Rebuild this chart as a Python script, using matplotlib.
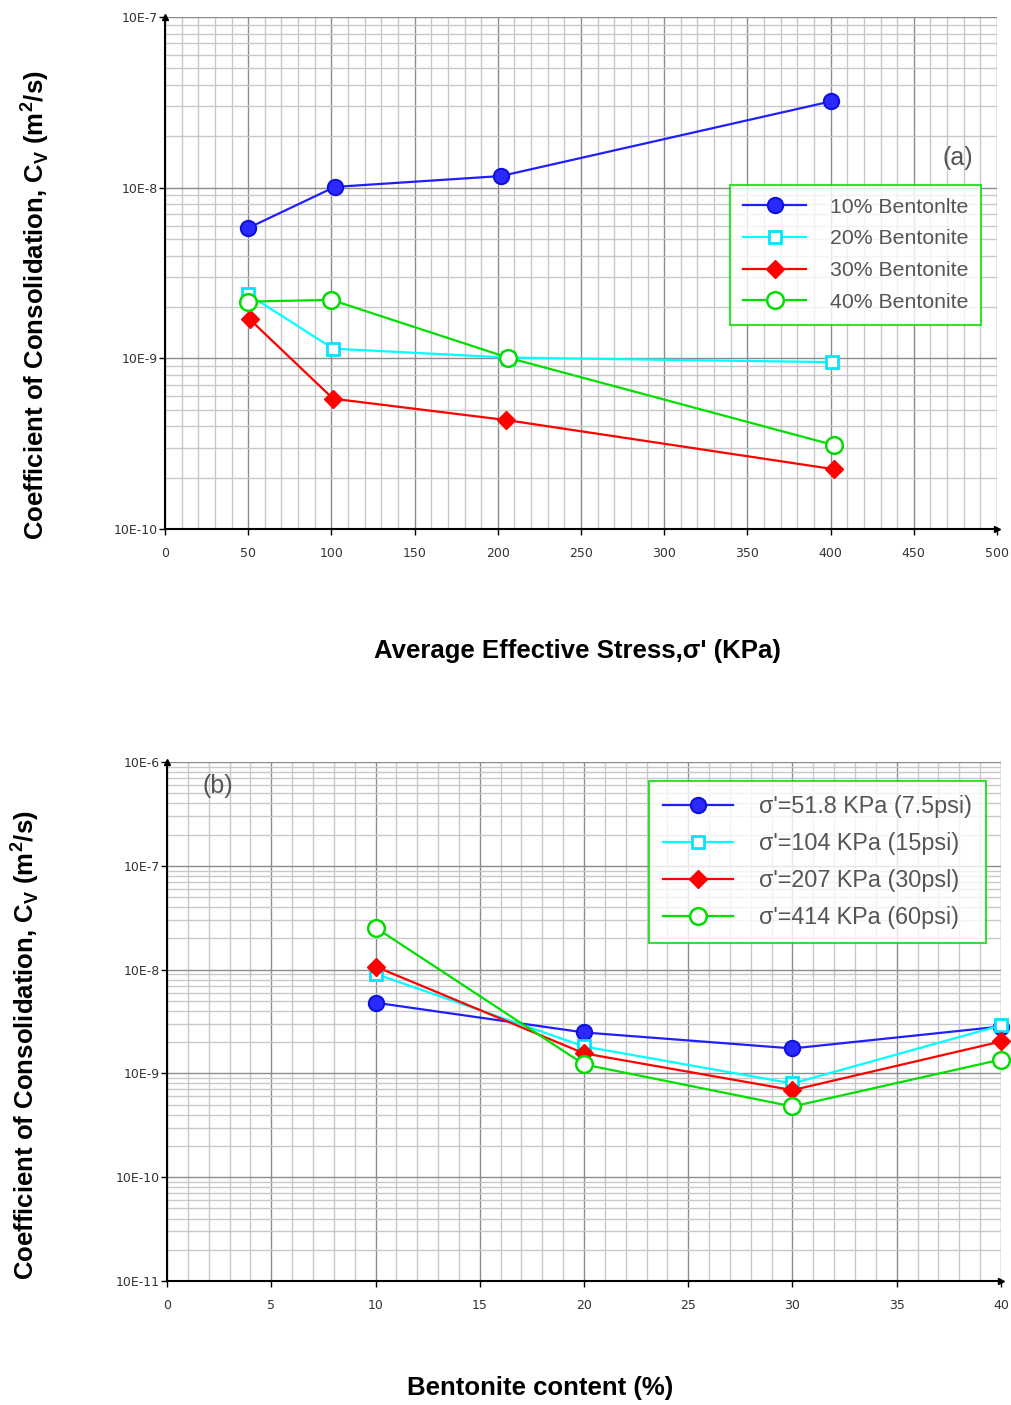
import matplotlib
matplotlib.use('Agg')
import matplotlib.pyplot as plt
from matplotlib.ticker import MultipleLocator, LogLocator, FixedLocator

# panel (a): Cv vs average effective stress
stress_10 = [50, 102, 202, 400]
cv_10 = [5.8e-9, 1.01e-8, 1.17e-8, 3.2e-8]
stress_20 = [50, 101, 206, 401]
cv_20 = [2.37e-9, 1.14e-9, 1.01e-9, 9.5e-10]
stress_30 = [51, 101, 205, 402]
cv_30 = [1.69e-9, 5.8e-10, 4.35e-10, 2.24e-10]
stress_40 = [50, 100, 206, 402]
cv_40 = [2.15e-9, 2.2e-9, 1.01e-9, 3.1e-10]
labels_a = ["10% Bentonlte", "20% Bentonite", "30% Bentonite", "40% Bentonite"]

# panel (b): Cv vs bentonite content
bentonite = [10, 20, 30, 40]
cv_52 = [4.8e-9, 2.48e-9, 1.74e-9, 2.83e-9]
cv_104 = [9.1e-9, 1.82e-9, 8.0e-10, 2.9e-9]
cv_207 = [1.07e-8, 1.56e-9, 6.9e-10, 2.03e-9]
cv_414 = [2.54e-8, 1.22e-9, 4.8e-10, 1.36e-9]
labels_b = ["σ'=51.8 KPa (7.5psi)", "σ'=104 KPa (15psi)",
            "σ'=207 KPa (30psl)", "σ'=414 KPa (60psi)"]

styles = [
    dict(color='#1f1fff', marker='o', ms=11, mfc='#2a2aff', mec='#1010e0', mew=1.5),
    dict(color='#00ffff', marker='s', ms=9, mfc='white', mec='#00e5ff', mew=2),
    dict(color='#ff0000', marker='D', ms=9, mfc='#ff0000', mec='#ff0000', mew=1),
    dict(color='#00e000', marker='o', ms=12, mfc='white', mec='#00dd00', mew=1.8),
]

W, H = 1011, 1405
fig = plt.figure(figsize=(W / 100, H / 100), dpi=100)

ylab = 'Coefficient of Consolidation, C$_\\mathregular{V}$ (m$^\\mathregular{2}$/s)'
lab_font = dict(fontsize=18.5, fontweight='bold', family='Liberation Sans')


def setup(ax, xmax, xmajor, xminor, ydec):
    ax.set_yscale('log')
    ax.set_xlim(0, xmax)
    ax.set_ylim(10.0 ** ydec[0], 10.0 ** ydec[-1])
    ax.xaxis.set_major_locator(MultipleLocator(xmajor))
    ax.xaxis.set_minor_locator(MultipleLocator(xminor))
    ax.yaxis.set_major_locator(FixedLocator([10.0 ** d for d in ydec]))
    ax.yaxis.set_minor_locator(LogLocator(base=10, subs=range(2, 10)))
    ax.set_yticklabels(['10E%d' % d for d in ydec])
    ax.grid(which='major', color='#8c8c8c', lw=1.0)
    ax.grid(which='minor', color='#c8c8c8', lw=1.0)
    ax.set_axisbelow(True)
    for s in ['top', 'right']:
        ax.spines[s].set_visible(False)
    for s in ['left', 'bottom']:
        ax.spines[s].set_linewidth(1.5)
    ax.tick_params(which='major', length=4, width=1, labelsize=9,
                   labelcolor='#333333', pad=9)
    ax.tick_params(axis='y', which='major', pad=1)
    ax.tick_params(which='minor', length=0)
    ax.plot(0, 1, marker='^', color='black', ms=5, transform=ax.transAxes, clip_on=False)
    ax.plot(1, 0, marker='>', color='black', ms=5, transform=ax.transAxes, clip_on=False)


def legend(ax, anchor, size):
    lg = ax.legend(loc='upper left', bbox_to_anchor=anchor, frameon=True,
                   fancybox=False, edgecolor='#00dd00',
                   prop=dict(family='Liberation Sans', size=size),
                   handlelength=3.0, labelspacing=0.6, borderpad=0.6,
                   handletextpad=1.1, labelcolor='#555555', borderaxespad=0)
    lg.get_frame().set_linewidth(1.5)
    return lg


# (a)
ax1 = fig.add_axes([165 / W, 1 - 529 / H, (997 - 165) / W, (529 - 17) / H])
setup(ax1, 500, 50, 10, [-10, -9, -8, -7])
for xs, ys, st, lb in zip([stress_10, stress_20, stress_30, stress_40],
                          [cv_10, cv_20, cv_30, cv_40], styles, labels_a):
    ax1.plot(xs, ys, lw=1.6, label=lb, clip_on=False, zorder=3, **st)
legend(ax1, (0.679, 0.672), 15.3)
ax1.text(0.953, 0.725, '(a)', transform=ax1.transAxes, fontsize=18,
         color='#555555', ha='center', va='center', family='Liberation Sans')
fig.text(35 / W, 1 - 305 / H, ylab, rotation=90, ha='center', va='center', **lab_font)
fig.text(577 / W, 1 - 651 / H, "Average Effective Stress,σ' (KPa)", ha='center',
         va='center', **lab_font)

# (b)
ax2 = fig.add_axes([167 / W, 1 - 1281 / H, (1001 - 167) / W, (1281 - 762) / H])
setup(ax2, 40, 5, 1, [-11, -10, -9, -8, -7, -6])
for ys, st, lb in zip([cv_52, cv_104, cv_207, cv_414], styles, labels_b):
    ax2.plot(bentonite, ys, lw=1.6, label=lb, clip_on=False, zorder=3, **st)
legend(ax2, (0.578, 0.963), 16.8)
ax2.text(0.061, 0.953, '(b)', transform=ax2.transAxes, fontsize=18,
         color='#555555', ha='center', va='center', family='Liberation Sans')
fig.text(25 / W, 1 - 1045 / H, ylab, rotation=90, ha='center', va='center', **lab_font)
fig.text(540 / W, 1 - 1388 / H, 'Bentonite content (%)', ha='center',
         va='center', **lab_font)

fig.savefig('out.png', dpi=100)
